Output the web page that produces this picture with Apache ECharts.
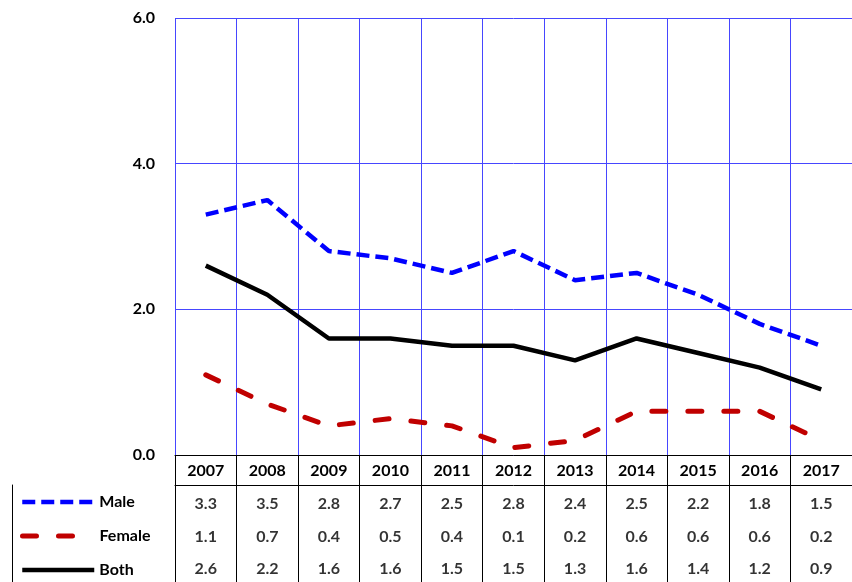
<!DOCTYPE html>
<html>
<head>
<meta charset="utf-8">
<script src="https://cdn.jsdelivr.net/npm/echarts@6/dist/echarts.min.js"></script>
<style>
  html, body { margin: 0; padding: 0; background: #fff; }
  #chart { width: 852px; height: 582px; }
</style>
</head>
<body>
<div id="chart"></div>
<script>
// Rates by year, shown as lines and repeated in the data table below the plot
const years = ['2007', '2008', '2009', '2010', '2011', '2012', '2013', '2014', '2015', '2016', '2017'];
const male = [3.3, 3.5, 2.8, 2.7, 2.5, 2.8, 2.4, 2.5, 2.2, 1.8, 1.5];
const female = [1.1, 0.7, 0.4, 0.5, 0.4, 0.1, 0.2, 0.6, 0.6, 0.6, 0.2];
const both = [2.6, 2.2, 1.6, 1.6, 1.5, 1.5, 1.3, 1.6, 1.4, 1.2, 0.9];
const rowNames = ['Male', 'Female', 'Both'];
const yTicks = { min: 0, max: 6, interval: 2 };

const FONT = 'Lato';
const FS = 16;
const gridBlue = '#4646ff';

// table geometry: the value rows start below the year row
const TABLE_TOP = 485;
const ROW_H = 34;

const lineStyles = {
  Male: { color: '#0000ff', width: 4.5, type: [13, 6], cap: 'butt' },
  Female: { color: '#c00000', width: 5, type: [14, 22], cap: 'round' },
  Both: { color: '#000000', width: 4.5, type: 'solid', cap: 'butt' }
};

// one table row of value labels per series
function tableRow(values, row) {
  return values.map((v, i) => [i, row, v]);
}

// one legend key per table row, placed in the table's left column
const legends = rowNames.map((n, r) => ({
  orient: 'vertical',
  left: 20,
  top: TABLE_TOP + ROW_H * r + ROW_H / 2 - 8,
  padding: 0,
  itemWidth: 72,
  itemHeight: 16,
  itemStyle: { opacity: 0 },
  selectedMode: false,
  data: [{ name: n, lineStyle: lineStyles[n] }],
  textStyle: { fontFamily: FONT, fontWeight: 'bold', fontSize: FS, color: '#000' }
}));

const chart = echarts.init(document.getElementById('chart'));
chart.setOption({
  animation: false,
  textStyle: { fontFamily: FONT },
  grid: [
    { left: 175, top: 18, width: 678, height: 437 },                   // plot area
    { left: 175, top: TABLE_TOP, width: 678, height: ROW_H * 3 },      // value cells of the table
    { left: 12, top: TABLE_TOP, width: 163, height: ROW_H * 3 }        // legend column of the table
  ],
  legend: legends,
  xAxis: [
    {
      gridIndex: 0,
      type: 'category',
      data: years,
      boundaryGap: true,
      axisLine: { lineStyle: { color: '#000', width: 1 } },
      axisTick: { show: true, interval: 0, length: 30, lineStyle: { color: '#000' } },
      axisLabel: { interval: 0, margin: 8, color: '#000', fontWeight: 'bold', fontSize: FS, fontFamily: FONT },
      splitLine: { show: true, interval: 0, lineStyle: { color: gridBlue, width: 1 } }
    },
    {
      gridIndex: 1,
      type: 'category',
      data: years,
      boundaryGap: true,
      position: 'top',
      axisLine: { show: true, lineStyle: { color: '#000', width: 1 } },
      axisTick: { show: false },
      axisLabel: { show: false },
      splitLine: { show: true, interval: 0, lineStyle: { color: '#000', width: 1 } }
    },
    {
      gridIndex: 2,
      type: 'value',
      position: 'top',
      axisLine: { show: true, lineStyle: { color: '#000', width: 1 } },
      axisTick: { show: false },
      axisLabel: { show: false },
      splitLine: { show: false }
    }
  ],
  yAxis: [
    {
      gridIndex: 0,
      type: 'value',
      min: yTicks.min,
      max: yTicks.max,
      interval: yTicks.interval,
      axisLine: { show: false },
      axisTick: { show: false },
      axisLabel: {
        margin: 20, color: '#000', fontWeight: 'bold', fontSize: FS, fontFamily: FONT,
        formatter: v => v.toFixed(1)
      },
      splitLine: { show: true, lineStyle: { color: gridBlue, width: 1 } }
    },
    {
      gridIndex: 1,
      type: 'category',
      data: rowNames,
      inverse: true,
      axisLine: { show: false },
      axisTick: { show: false },
      axisLabel: { show: false },
      splitLine: { show: false }
    },
    {
      gridIndex: 2,
      type: 'value',
      axisLine: { show: true, lineStyle: { color: '#000', width: 1 } },
      axisTick: { show: false },
      axisLabel: { show: false },
      splitLine: { show: false }
    }
  ],
  series: [
    ...[male, female, both].map((vals, r) => ({
      name: rowNames[r], type: 'line', data: vals, symbol: 'none', z: 5,
      itemStyle: { color: lineStyles[rowNames[r]].color },
      lineStyle: lineStyles[rowNames[r]]
    })),
    ...[male, female, both].map((vals, r) => ({
      name: 'table-' + rowNames[r],
      type: 'scatter',
      xAxisIndex: 1,
      yAxisIndex: 1,
      symbolSize: 0,
      silent: true,
      data: tableRow(vals, r),
      label: {
        show: true, position: 'inside', offset: [0, 3], color: '#000',
        fontFamily: FONT, fontWeight: 'bold', fontSize: FS,
        formatter: p => p.value[2].toFixed(1)
      }
    }))
  ]
});
</script>
</body>
</html>
